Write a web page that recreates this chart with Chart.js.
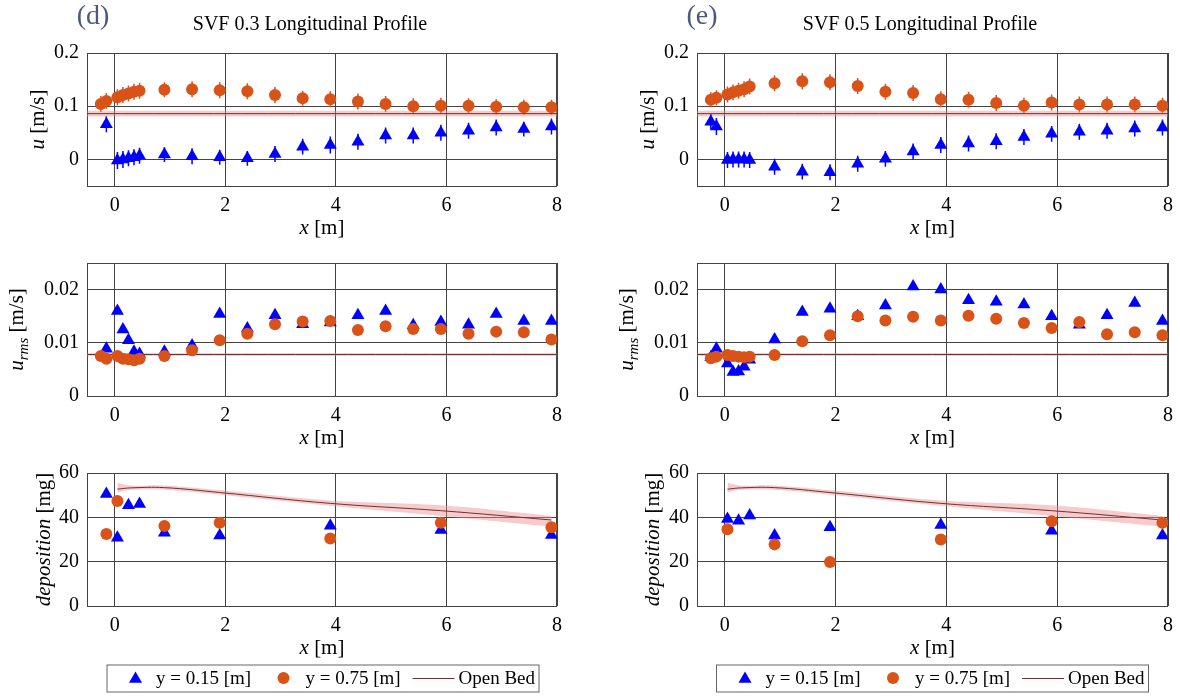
<!DOCTYPE html>
<html>
<head>
<meta charset="utf-8">
<script src="https://cdn.jsdelivr.net/npm/chart.js@4.4.1/dist/chart.umd.min.js"></script>
<style>
  html, body { margin: 0; padding: 0; background: #fff; }
  body { width: 1180px; height: 696px; position: relative; overflow: hidden; }
  canvas { position: absolute; }
</style>
</head>
<body>
<canvas id="u03" width="590" height="240" style="left:0;top:0"></canvas>
<canvas id="u05" width="590" height="240" style="left:590px;top:0"></canvas>
<canvas id="r03" width="590" height="210" style="left:0;top:240px"></canvas>
<canvas id="r05" width="590" height="210" style="left:590px;top:240px"></canvas>
<canvas id="d03" width="590" height="246" style="left:0;top:450px"></canvas>
<canvas id="d05" width="590" height="246" style="left:590px;top:450px"></canvas>
<script>
// ---- data ----
const xTicks = [0, 2, 4, 6, 8];
const uTicks = [0, 0.1, 0.2];
const rmsTicks = [0, 0.01, 0.02];
const depTicks = [0, 20, 40, 60];

// profile stations [m]
const xProfile = [-0.25, -0.15, 0.05, 0.15, 0.25, 0.35, 0.45, 0.9, 1.4, 1.9, 2.4, 2.9, 3.4, 3.9, 4.4, 4.9, 5.4, 5.9, 6.4, 6.9, 7.4, 7.9];

// SVF 0.3, mean velocity
const u03Low = [null, 0.066, -0.002, 0.000, 0.002, 0.004, 0.007, 0.009, 0.006, 0.004, 0.002, 0.010, 0.024, 0.027, 0.033, 0.045, 0.045, 0.050, 0.054, 0.060, 0.057, 0.062];
const u03High = [0.104, 0.110, 0.117, 0.121, 0.124, 0.127, 0.129, 0.131, 0.132, 0.130, 0.128, 0.121, 0.115, 0.113, 0.109, 0.104, 0.100, 0.101, 0.101, 0.099, 0.098, 0.098];
const err03Low = [null, 0.015, 0.016, 0.016, 0.015, 0.015, 0.015, 0.014, 0.015, 0.014, 0.014, 0.015, 0.015, 0.016, 0.015, 0.015, 0.015, 0.015, 0.015, 0.015, 0.014, 0.015];
const err03High = [0.015, 0.015, 0.015, 0.015, 0.015, 0.015, 0.015, 0.014, 0.015, 0.015, 0.015, 0.015, 0.014, 0.015, 0.015, 0.015, 0.015, 0.015, 0.014, 0.014, 0.014, 0.014];

// SVF 0.5, mean velocity
const u05Low = [0.071, 0.062, -0.001, 0.000, 0.000, 0.000, -0.001, -0.014, -0.023, -0.024, -0.008, 0.001, 0.015, 0.027, 0.030, 0.034, 0.042, 0.048, 0.052, 0.054, 0.058, 0.060];
const u05High = [0.112, 0.116, 0.122, 0.126, 0.129, 0.132, 0.137, 0.143, 0.147, 0.145, 0.138, 0.127, 0.125, 0.113, 0.112, 0.106, 0.101, 0.107, 0.103, 0.103, 0.103, 0.101];
const err05Low = [0.015, 0.016, 0.015, 0.015, 0.015, 0.015, 0.015, 0.015, 0.015, 0.015, 0.015, 0.015, 0.015, 0.015, 0.015, 0.015, 0.015, 0.015, 0.015, 0.015, 0.015, 0.015];
const err05High = [0.014, 0.014, 0.015, 0.015, 0.015, 0.015, 0.015, 0.015, 0.015, 0.015, 0.015, 0.015, 0.015, 0.015, 0.015, 0.015, 0.015, 0.015, 0.015, 0.015, 0.015, 0.015];

// rms velocity
const rms03Low = [null, 0.0089, 0.0160, 0.0125, 0.0105, 0.0083, 0.0079, 0.0083, 0.0095, 0.0154, 0.0127, 0.0152, 0.0135, 0.0138, 0.0152, 0.0160, 0.0133, 0.0139, 0.0134, 0.0154, 0.0141, 0.0141];
const rms03High = [0.0075, 0.0070, 0.0075, 0.0070, 0.0069, 0.0067, 0.0070, 0.0075, 0.0086, 0.0105, 0.0117, 0.0135, 0.0140, 0.0141, 0.0124, 0.0131, 0.0126, 0.0126, 0.0117, 0.0121, 0.0120, 0.0106];
const rms05Low = [0.0073, 0.0089, 0.0061, 0.0045, 0.0046, 0.0055, 0.0068, 0.0106, 0.0158, 0.0164, 0.0150, 0.0170, 0.0206, 0.0200, 0.0180, 0.0177, 0.0172, 0.0150, 0.0134, 0.0152, 0.0175, 0.0141];
const rms05High = [0.0071, 0.0074, 0.0077, 0.0075, 0.0074, 0.0073, 0.0074, 0.0077, 0.0103, 0.0114, 0.0150, 0.0142, 0.0149, 0.0142, 0.0151, 0.0145, 0.0137, 0.0128, 0.0139, 0.0116, 0.0120, 0.0114];

// deposition
const xDep = [-0.15, 0.05, 0.25, 0.45, 0.9, 1.9, 3.9, 5.9, 7.9];
const dep03Low = [50.5, 30.8, 45.5, 46.0, 33.0, 31.8, 36.2, 34.3, 32.0];
const dep03High = [32.5, 47.4, null, null, 36.1, 37.6, 30.4, 37.6, 35.5];
const dep05Low = [null, 39.3, 38.5, 40.8, 31.8, 35.5, 36.5, 34.0, 31.8];
const dep05High = [null, 34.6, null, null, 27.8, 19.9, 30.0, 38.2, 37.6];

// open bed reference
const xOpenFlat = [-0.5, 8];
const uOpen = [0.086, 0.086];
const uOpenHi = [0.0915, 0.0915];
const uOpenLo = [0.0805, 0.0805];
const rmsOpen = [0.0078, 0.0078];
const rmsOpenHi = [0.0081, 0.0081];
const rmsOpenLo = [0.0075, 0.0075];
const xOpenDep = [0.05, 0.3, 0.9, 1.9, 3.9, 5.9, 7.9];
const depOpen = [52.7, 53.3, 53.4, 51.2, 46.3, 43.0, 38.8];
const depOpenHi = [55.6, 54.3, 54.4, 52.3, 47.6, 45.4, 40.6];
const depOpenLo = [51.3, 52.4, 52.4, 50.2, 45.2, 40.6, 35.8];

// ---- style ----
const BLUE = '#0000ff';
const ORANGE = '#d95319';
const OPEN = '#6e3030';
const BAND = 'rgba(238,140,140,0.45)';
const SERIF = '"Liberation Serif", "Times New Roman", serif';
const GRID = '#444';

Chart.defaults.font.family = SERIF;
Chart.defaults.color = '#000';

const pts = (xs, ys) => xs.map((x, i) => ({ x: x, y: ys[i] }));
const errPts = (xs, ys, es) => {
  const out = [];
  xs.forEach((x, i) => {
    if (ys[i] === null) return;
    out.push({ x: x, y: ys[i] - es[i] }, { x: x, y: ys[i] + es[i] }, { x: x, y: null });
  });
  return out;
};

function drawRich(ctx, parts, cx, cy, rotate) {
  ctx.save();
  ctx.translate(cx, cy);
  if (rotate) ctx.rotate(-Math.PI / 2);
  ctx.fillStyle = '#000';
  ctx.textBaseline = 'alphabetic';
  ctx.textAlign = 'left';
  let total = 0;
  parts.forEach(p => { ctx.font = p.font; p.w = ctx.measureText(p.text).width; total += p.w; });
  let x = -total / 2;
  parts.forEach(p => { ctx.font = p.font; ctx.fillText(p.text, x, p.dy || 0); x += p.w; });
  ctx.restore();
}

const it = s => 'italic ' + s + 'px ' + SERIF;
const rm = s => s + 'px ' + SERIF;

function decorPlugin(cfg) {
  return {
    id: 'decor',
    beforeDatasetsDraw(chart) {
      const { ctx, chartArea: a } = chart;
      ctx.save();
      ctx.strokeStyle = GRID;
      ctx.lineWidth = 1;
      ctx.strokeRect(Math.round(a.left) + 0.5, Math.round(a.top) + 0.5,
        Math.round(a.right - a.left) - 1, Math.round(a.bottom - a.top));
      ctx.restore();
    },
    afterDraw(chart) {
      const { ctx, chartArea: a } = chart;
      const midX = (a.left + a.right) / 2;
      const midY = (a.top + a.bottom) / 2;
      // x axis title
      drawRich(ctx, [{ text: 'x', font: it(21) }, { text: ' [m]', font: rm(21) }], midX, a.bottom + 48, false);
      // y axis title
      drawRich(ctx, cfg.yTitle, a.left + cfg.yTitleOffset, midY, true);
      if (cfg.heading) {
        ctx.save();
        ctx.fillStyle = '#4b5a78';
        ctx.font = rm(28);
        ctx.textAlign = 'center';
        ctx.fillText(cfg.heading.tag, cfg.heading.tagX, 24);
        ctx.fillStyle = '#000';
        ctx.font = rm(20);
        ctx.fillText(cfg.heading.title, cfg.heading.titleX, 30);
        ctx.restore();
      }
      if (cfg.legendX !== undefined) {
        const ds = chart.data.datasets;
        const low = ds.find(d => d.label === 'y = 0.15 [m]');
        const high = ds.find(d => d.label === 'y = 0.75 [m]');
        const open = ds.find(d => d.label === 'Open Bed');
        const bx = cfg.legendX, by = 214.5, bw = 432, bh = 27;
        const cy = by + bh / 2;
        ctx.save();
        ctx.fillStyle = '#fff';
        ctx.fillRect(bx, by, bw, bh);
        ctx.strokeStyle = '#666';
        ctx.lineWidth = 1;
        ctx.strokeRect(bx + 0.5, by + 0.5, bw, bh);
        const dp = Chart.helpers.drawPoint;
        ctx.fillStyle = low.backgroundColor; ctx.strokeStyle = low.borderColor;
        dp(ctx, { pointStyle: low.pointStyle, radius: low.pointRadius, rotation: 0, borderWidth: 0 }, bx + 29, cy + 1);
        ctx.fillStyle = high.backgroundColor; ctx.strokeStyle = high.borderColor;
        dp(ctx, { pointStyle: high.pointStyle, radius: high.pointRadius, rotation: 0, borderWidth: 0 }, bx + 177, cy);
        ctx.strokeStyle = open.borderColor; ctx.lineWidth = 1;
        ctx.beginPath(); ctx.moveTo(bx + 306, Math.round(cy) + 0.5); ctx.lineTo(bx + 348, Math.round(cy) + 0.5); ctx.stroke();
        ctx.fillStyle = '#000';
        ctx.font = rm(19);
        ctx.textBaseline = 'alphabetic';
        ctx.fillText(low.label, bx + 49.5, cy + 6);
        ctx.fillText(high.label, bx + 199, cy + 6);
        ctx.fillText(open.label, bx + 352, cy + 6);
        ctx.restore();
      }
    }
  };
}

function makePanel(id, cfg) {
  const datasets = [];
  if (cfg.err) {
    datasets.push({ label: 'err low', data: errPts(xProfile, cfg.low, cfg.err[0]), showLine: true, borderColor: BLUE, borderWidth: 1.5, pointRadius: 0, order: 6 });
    datasets.push({ label: 'err high', data: errPts(xProfile, cfg.high, cfg.err[1]), showLine: true, borderColor: ORANGE, borderWidth: 1.5, pointRadius: 0, order: 6 });
  }
  datasets.push({ label: 'band lo', data: pts(cfg.openX, cfg.openLo), showLine: true, borderWidth: 0, borderColor: 'rgba(0,0,0,0)', pointRadius: 0, tension: 0.4, order: 5 });
  datasets.push({ label: 'band hi', data: pts(cfg.openX, cfg.openHi), showLine: true, borderWidth: 0, borderColor: 'rgba(0,0,0,0)', backgroundColor: BAND, fill: '-1', pointRadius: 0, tension: 0.4, order: 5 });
  datasets.push({ label: 'Open Bed', data: pts(cfg.openX, cfg.open), showLine: true, borderColor: OPEN, borderWidth: 1, pointRadius: 0, tension: 0.4, order: 4 });
  datasets.push({ label: 'y = 0.15 [m]', data: pts(cfg.x, cfg.low), pointStyle: 'triangle', pointRadius: 7.5, backgroundColor: BLUE, borderColor: BLUE, borderWidth: 0, order: 2 });
  datasets.push({ label: 'y = 0.75 [m]', data: pts(cfg.x, cfg.high), pointStyle: 'circle', pointRadius: 6, backgroundColor: ORANGE, borderColor: ORANGE, borderWidth: 0, order: 1 });

  return new Chart(document.getElementById(id), {
    type: 'scatter',
    data: { datasets },
    options: {
      responsive: false,
      animation: false,
      events: [],
      layout: { padding: cfg.pad },
      plugins: { legend: { display: false }, tooltip: { enabled: false } },
      scales: {
        x: {
          type: 'linear', min: -0.5, max: 8,
          afterBuildTicks: s => { s.ticks = xTicks.map(v => ({ value: v })); },
          afterFit: s => { s.height = 54; s.paddingLeft = 0; s.paddingRight = 0; },
          grid: { color: GRID, drawTicks: false },
          border: { display: false },
          ticks: { padding: 8, font: { size: 20 }, color: '#000', maxRotation: 0, autoSkip: false, callback: v => String(v) }
        },
        y: {
          type: 'linear', min: cfg.yMin, max: cfg.yMax,
          afterBuildTicks: s => { s.ticks = cfg.yTicks.map(v => ({ value: v })); },
          afterFit: s => { s.width = 60; s.paddingTop = 0; s.paddingBottom = 0; },
          grid: { color: GRID, drawTicks: false },
          border: { display: false },
          ticks: { padding: 8, font: { size: 20 }, color: '#000', autoSkip: false, callback: v => String(v) }
        }
      }
    },
    plugins: [decorPlugin(cfg)]
  });
}

const padL = { left: 27, right: 33 };
const padR = { left: 47, right: 12 };
const uTitle = [{ text: 'u', font: it(21) }, { text: ' [m/s]', font: rm(21) }];
const rmsTitle = [{ text: 'u', font: it(21) }, { text: 'rms', font: it(15), dy: 5 }, { text: ' [m/s]', font: rm(21) }];
const depTitle = [{ text: 'deposition', font: it(21) }, { text: ' [mg]', font: rm(21) }];

makePanel('u03', { x: xProfile, low: u03Low, high: u03High, err: [err03Low, err03High], openX: xOpenFlat, open: uOpen, openHi: uOpenHi, openLo: uOpenLo,
  yMin: -0.05, yMax: 0.2, yTicks: uTicks, yTitle: uTitle, yTitleOffset: -43.5,
  pad: Object.assign({ top: 53, bottom: 0 }, padL), heading: { tag: '(d)', tagX: 93, title: 'SVF 0.3 Longitudinal Profile', titleX: 310 } });
makePanel('u05', { x: xProfile, low: u05Low, high: u05High, err: [err05Low, err05High], openX: xOpenFlat, open: uOpen, openHi: uOpenHi, openLo: uOpenLo,
  yMin: -0.05, yMax: 0.2, yTicks: uTicks, yTitle: uTitle, yTitleOffset: -43.5,
  pad: Object.assign({ top: 53, bottom: 0 }, padR), heading: { tag: '(e)', tagX: 112, title: 'SVF 0.5 Longitudinal Profile', titleX: 330 } });
makePanel('r03', { x: xProfile, low: rms03Low, high: rms03High, openX: xOpenFlat, open: rmsOpen, openHi: rmsOpenHi, openLo: rmsOpenLo,
  yMin: 0, yMax: 0.025, yTicks: rmsTicks, yTitle: rmsTitle, yTitleOffset: -64,
  pad: Object.assign({ top: 23, bottom: 0 }, padL) });
makePanel('r05', { x: xProfile, low: rms05Low, high: rms05High, openX: xOpenFlat, open: rmsOpen, openHi: rmsOpenHi, openLo: rmsOpenLo,
  yMin: 0, yMax: 0.025, yTicks: rmsTicks, yTitle: rmsTitle, yTitleOffset: -64,
  pad: Object.assign({ top: 23, bottom: 0 }, padR) });
makePanel('d03', { x: xDep, low: dep03Low, high: dep03High, openX: xOpenDep, open: depOpen, openHi: depOpenHi, openLo: depOpenLo,
  yMin: 0, yMax: 60, yTicks: depTicks, yTitle: depTitle, yTitleOffset: -37,
  pad: Object.assign({ top: 23, bottom: 36 }, padL), legendX: 106.5 });
makePanel('d05', { x: xDep, low: dep05Low, high: dep05High, openX: xOpenDep, open: depOpen, openHi: depOpenHi, openLo: depOpenLo,
  yMin: 0, yMax: 60, yTicks: depTicks, yTitle: depTitle, yTitleOffset: -38,
  pad: Object.assign({ top: 23, bottom: 36 }, padR), legendX: 126 });
</script>
</body>
</html>
